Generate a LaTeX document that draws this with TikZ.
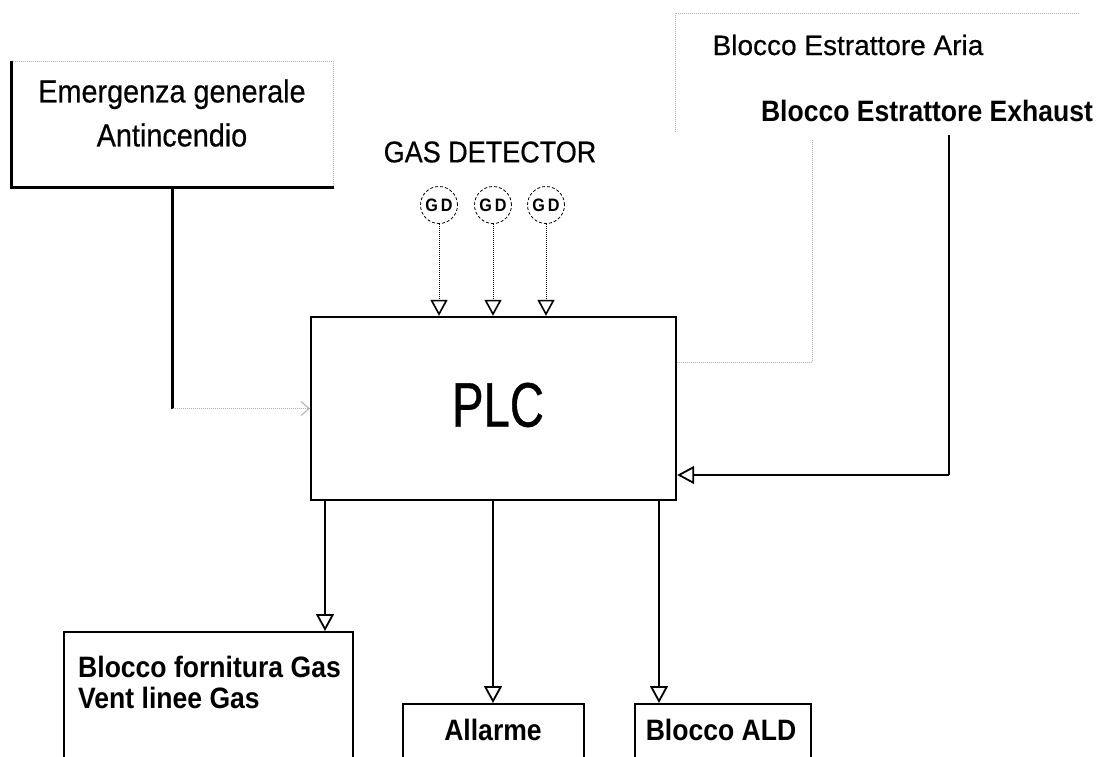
\documentclass[tikz,border=0pt]{standalone}
\usepackage{fontspec}
\setmainfont{Liberation Sans}[FakeBold=0.4]
\newfontfamily\narrowfont[FakeStretch=0.9]{Liberation Sans}
\newfontfamily\plainnarrow[FakeStretch=0.9, FakeBold=0.5]{Liberation Sans}
\newfontfamily\plcfont[FakeStretch=0.75, FakeBold=0.6]{Liberation Sans}
\usetikzlibrary{arrows.meta,positioning}

\begin{document}
\begin{tikzpicture}[
    x=1pt, y=-1pt,
    block/.style={rectangle, draw, line width=2.4pt, inner sep=0pt},
    lbl/.style={inner sep=0pt, font=\narrowfont\bfseries\fontsize{29.5}{31}\selectfont},
    gd/.style={circle, draw, densely dashed, line width=0.8pt, minimum size=37pt, inner sep=0pt,
        font=\narrowfont\bfseries\fontsize{18}{18}\selectfont},
    sig/.style={-{Triangle[open, length=17pt, width=18pt, line width=1.8pt]}, line width=2.2pt},
    feed/.style={-{Triangle[open, length=16pt, width=17pt, line width=1.6pt]}, densely dotted, line width=1pt},
    faint/.style={densely dotted, gray!60, line width=1pt}
]
    \clip (0,0) rectangle (1110,756);

    % Inputs
    \node[rectangle, faint, draw, minimum width=321pt, minimum height=126pt] (emerg) at (172.5,124) {};
    \draw[line width=2.4pt] (emerg.north west) -- (emerg.south west) -- (emerg.south east);
    \node[inner sep=0pt, align=center, font=\plainnarrow\fontsize{32}{44}\selectfont] (emergtxt) at (172,113) {Emergenza generale\\Antincendio};

    \node[inner sep=0pt, font=\plainnarrow\fontsize{30}{30}\selectfont] (gastxt) at (490,152) {GAS DETECTOR};
    \node[gd] (gd1) at (439,205) {G\,D};
    \node[gd] (gd2) at (493,205) {G\,D};
    \node[gd] (gd3) at (546,205) {G\,D};

    \draw[faint] (675,132) -- (675,13) -- (1080,13);
    \node[inner sep=0pt, font=\fontsize{28}{28}\selectfont] (ariatxt) at (848,45) {Blocco Estrattore Aria};
    \node[lbl] (exhtxt) at (927,111) {Blocco Estrattore Exhaust};

    % PLC
    \node[block, minimum width=365pt, minimum height=183pt] (plc) at (493.5,408.5) {};
    \node[inner sep=0pt, font=\plcfont\fontsize{63}{63}\selectfont] (plctxt) at (498,405) {PLC};

    % Outputs
    \node[block, anchor=north west, minimum width=289pt, minimum height=200pt] (gasblk) at (63,631) {};
    \node[lbl, anchor=north west, align=left] (gastxt2) at (78,656) {Blocco fornitura Gas\\Vent linee Gas};
    \node[block, anchor=north west, minimum width=181pt, minimum height=100pt] (alarm) at (402,703) {};
    \node[lbl] (alarmtxt) at (493,730) {Allarme};
    \node[block, anchor=north west, minimum width=176pt, minimum height=100pt] (ald) at (634,703) {};
    \node[lbl] (aldtxt) at (721,730) {Blocco ALD};

    % Gas detector signals
    \draw[feed] (gd1) -- (gd1 |- plc.north);
    \draw[feed] (gd2) -- (gd2 |- plc.north);
    \draw[feed] (gd3) -- (gd3 |- plc.north);

    % Emergency line
    \coordinate (ecorner) at (emerg.south |- plc.west);
    \draw[line width=2.2pt] (emerg.south) -- (ecorner);
    \draw[faint, -{Straight Barb[length=8pt, width=14pt]}] (ecorner) -- (plc.west);

    % Extractor lines
    \coordinate (ariatop) at (812,140);
    \coordinate (ariacorner) at (812,362);
    \draw[faint] (ariatop) -- (ariacorner) -- (ariacorner -| plc.east);
    \coordinate (exhtop) at (949,135);
    \coordinate (exhcorner) at (949,475);
    \draw[line width=2.2pt] (exhtop) -- (exhcorner);
    \draw[sig] (exhcorner) -- (exhcorner -| plc.east);

    % PLC outputs
    \draw[sig] (325,0 |- plc.south) -- (325,0 |- gasblk.north);
    \draw[sig] (alarmtxt |- plc.south) -- (alarmtxt |- alarm.north);
    \draw[sig] (659,0 |- plc.south) -- (659,0 |- ald.north);
\end{tikzpicture}
\end{document}
